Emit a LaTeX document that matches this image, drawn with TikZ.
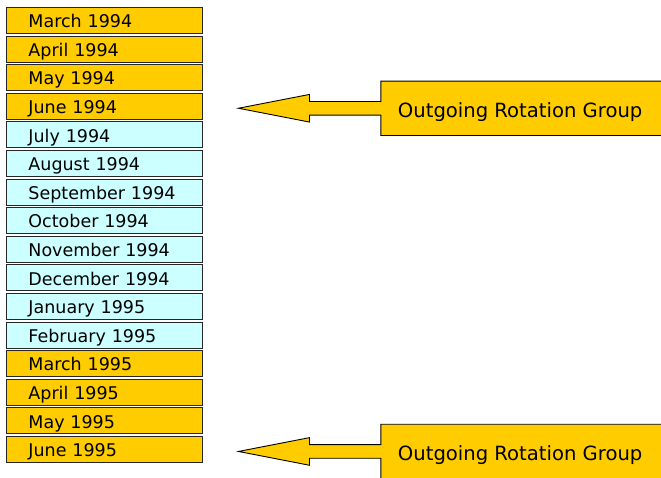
\documentclass[tikz,border=0pt]{standalone}
\usepackage{fontspec}
\setmainfont{DejaVu Sans}
\usepackage{tikz}
\usetikzlibrary{
	calc,											% 坐标计算
	matrix,											% 矩阵排列节点
}
\definecolor{goldbox}{HTML}{FFCC00}
\definecolor{cyanbox}{HTML}{CCFFFF}
\tikzset{
	month/.style={draw=black!85, line width=0.9pt, minimum width=196pt, minimum height=26pt,
		text width=152pt, align=left, inner xsep=22pt, inner ysep=2pt, outer sep=0pt,
		text height=15pt, text depth=0.4pt, font=\fontsize{17.5}{20}\selectfont},
	gold/.style={month, fill=goldbox},
	cyan/.style={month, fill=cyanbox},
	callout/.style={draw=black, line width=0.9pt, fill=goldbox, line join=miter},
	grouptext/.style={font=\fontsize{19.6}{22}\selectfont, inner sep=0pt},
}

\begin{document}
\begin{tikzpicture}[x=1pt, y=-1pt]
		\useasboundingbox (0,0) rectangle (661,477);
		\matrix (months) [matrix anchor=north west, inner sep=0pt, outer sep=0pt, row sep=1.7pt] at (6,7) {
			\node[gold] (mar94) {March 1994};     \\
			\node[gold] (apr94) {April 1994};     \\
			\node[gold] (may94) {May 1994};       \\
			\node[gold] (jun94) {June 1994};      \\ %第一组轮换
			\node[cyan] (jul94) {July 1994};      \\
			\node[cyan] (aug94) {August 1994};    \\
			\node[cyan] (sep94) {September 1994}; \\
			\node[cyan] (oct94) {October 1994};   \\
			\node[cyan] (nov94) {November 1994};  \\
			\node[cyan] (dec94) {December 1994};  \\
			\node[cyan] (jan95) {January 1995};   \\
			\node[cyan] (feb95) {February 1995};  \\
			\node[gold] (mar95) {March 1995};     \\
			\node[gold] (apr95) {April 1995};     \\
			\node[gold] (may95) {May 1995};       \\
			\node[gold] (jun95) {June 1995};      \\ %第二组轮换
		};
		% 带箭头的标注框
		\foreach \m/\g in {jun94/grp94, jun95/grp95}{
			\coordinate (\g tip) at ($(\m.east)+(36,2)$);
			\draw[callout] (\g tip) -- ++(71,-13.8) -- ++(0,7) -- ++(71.4,0) -- ++(0,-20.4)
				-- ++(300,0) -- ++(0,54.4) -- ++(-300,0) -- ++(0,-20.4) -- ++(-71.4,0) -- ++(0,7) -- cycle;
			\node[grouptext, anchor=base] (\g) at ($(\g tip)+(281.7,8.8)$) {Outgoing Rotation Group};
		}
	\end{tikzpicture}
\end{document}
